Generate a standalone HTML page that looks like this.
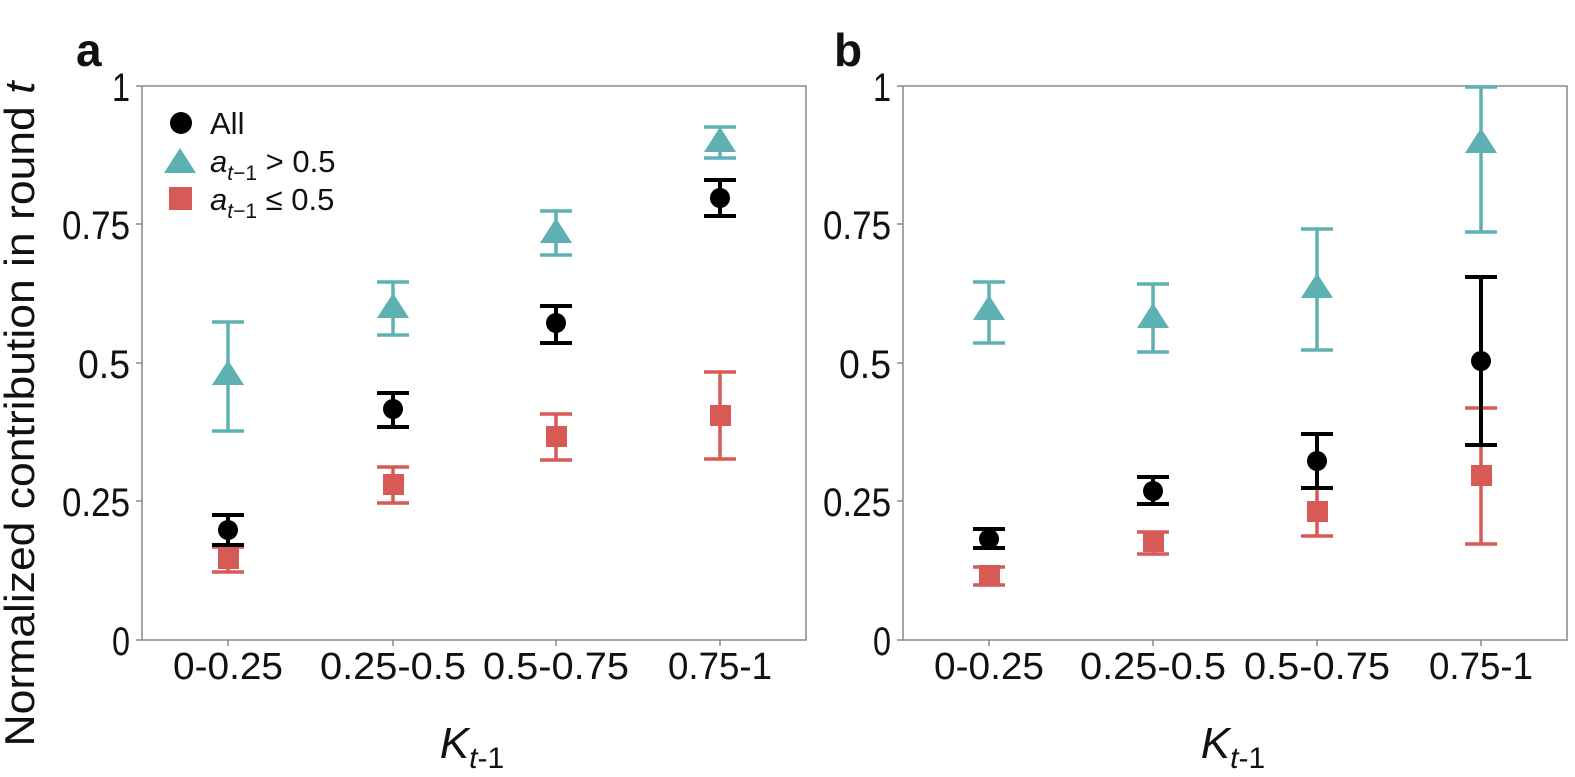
<!DOCTYPE html>
<html><head><meta charset="utf-8"><style>
html,body{margin:0;padding:0;background:#fff}
svg{display:block}
text{font-family:"Liberation Sans",Arial,sans-serif;fill:#111}
</style></head><body>
<svg width="1575" height="777" viewBox="0 0 1575 777" xmlns="http://www.w3.org/2000/svg">
<defs>
<g id="tri"><polygon points="0,-14 -16,11 16,11" fill="#5eb1b2"/></g>
</defs>
<text x="76" y="66" font-size="46" font-weight="bold">a</text>
<text x="834" y="66" font-size="46" font-weight="bold">b</text>
<text transform="translate(34,414) rotate(-90)" font-size="42" text-anchor="middle" textLength="665" lengthAdjust="spacingAndGlyphs">Normalized contribution in round <tspan font-style="italic">t</tspan></text>

<rect x="142" y="86" width="664" height="554" fill="none" stroke="#888" stroke-width="1.5"/>
<g stroke="#888" stroke-width="1.5"><path d="M136,86H142M136,224H142M136,363H142M136,501H142M136,640H142M228,640V646M393,640V646M556,640V646M720,640V646"/>
<path d="M897,86H903M897,224H903M897,363H903M897,501H903M897,640H903M989,640V646M1153,640V646M1317,640V646M1481,640V646"/></g>
<g font-size="40" text-anchor="end">
<text x="130" y="101" textLength="18" lengthAdjust="spacingAndGlyphs">1</text><text x="130" y="239" textLength="68" lengthAdjust="spacingAndGlyphs">0.75</text><text x="130" y="378" textLength="52" lengthAdjust="spacingAndGlyphs">0.5</text><text x="130" y="516" textLength="68" lengthAdjust="spacingAndGlyphs">0.25</text><text x="130" y="655" textLength="18" lengthAdjust="spacingAndGlyphs">0</text>
</g>
<g font-size="38" text-anchor="middle">
<text x="228" y="679" textLength="110" lengthAdjust="spacingAndGlyphs">0-0.25</text><text x="393" y="679" textLength="146" lengthAdjust="spacingAndGlyphs">0.25-0.5</text><text x="556" y="679" textLength="146" lengthAdjust="spacingAndGlyphs">0.5-0.75</text><text x="720" y="679" textLength="104" lengthAdjust="spacingAndGlyphs">0.75-1</text>
</g>
<text x="472" y="758" font-size="44" font-style="italic" text-anchor="middle">K<tspan font-size="30" dy="10" font-style="italic">t</tspan><tspan font-size="30" font-style="normal">-1</tspan></text>

<rect x="903" y="86" width="664" height="554" fill="none" stroke="#888" stroke-width="1.5"/>
<g font-size="40" text-anchor="end">
<text x="891" y="101" textLength="18" lengthAdjust="spacingAndGlyphs">1</text><text x="891" y="239" textLength="68" lengthAdjust="spacingAndGlyphs">0.75</text><text x="891" y="378" textLength="52" lengthAdjust="spacingAndGlyphs">0.5</text><text x="891" y="516" textLength="68" lengthAdjust="spacingAndGlyphs">0.25</text><text x="891" y="655" textLength="18" lengthAdjust="spacingAndGlyphs">0</text>
</g>
<g font-size="38" text-anchor="middle">
<text x="989" y="679" textLength="110" lengthAdjust="spacingAndGlyphs">0-0.25</text><text x="1153" y="679" textLength="146" lengthAdjust="spacingAndGlyphs">0.25-0.5</text><text x="1317" y="679" textLength="146" lengthAdjust="spacingAndGlyphs">0.5-0.75</text><text x="1481" y="679" textLength="104" lengthAdjust="spacingAndGlyphs">0.75-1</text>
</g>
<text x="1233" y="758" font-size="44" font-style="italic" text-anchor="middle">K<tspan font-size="30" dy="10" font-style="italic">t</tspan><tspan font-size="30" font-style="normal">-1</tspan></text>

<circle cx="181" cy="123" r="11" fill="#000"/>
<text x="210" y="134" font-size="31">All</text>
<use href="#tri" x="180" y="162"/>
<text x="210" y="172" font-size="31"><tspan font-style="italic">a</tspan><tspan font-size="21" dy="8" font-style="italic">t</tspan><tspan font-size="21">−1</tspan><tspan dy="-8"> &gt; 0.5</tspan></text>
<rect x="169" y="187" width="23" height="23" fill="#d65a56"/>
<text x="210" y="210" font-size="31"><tspan font-style="italic">a</tspan><tspan font-size="21" dy="8" font-style="italic">t</tspan><tspan font-size="21">−1</tspan><tspan dy="-8"> ≤ 0.5</tspan></text>

<g stroke="#5eb1b2" stroke-width="3.5" fill="none">
<path d="M228,322V431M212,322H244M212,431H244"/>
<path d="M393,282V335M377,282H409M377,335H409"/>
<path d="M556,211V255M540,211H572M540,255H572"/>
<path d="M720,127V158M704,127H736M704,158H736"/>
<path d="M989,282V343M973,282H1005M973,343H1005"/>
<path d="M1153,284V352M1137,284H1169M1137,352H1169"/>
<path d="M1317,229V350M1301,229H1333M1301,350H1333"/>
<path d="M1481,87V232M1465,87H1497M1465,232H1497"/>
</g>
<g stroke="#d65a56" stroke-width="3.5" fill="none">
<path d="M228,547V572M212,547H244M212,572H244"/>
<path d="M393,467V503M377,467H409M377,503H409"/>
<path d="M556,414V460M540,414H572M540,460H572"/>
<path d="M720,372V459M704,372H736M704,459H736"/>
<path d="M989,567V585M973,567H1005M973,585H1005"/>
<path d="M1153,532V554M1137,532H1169M1137,554H1169"/>
<path d="M1317,488V536M1301,488H1333M1301,536H1333"/>
<path d="M1481,408V544M1465,408H1497M1465,544H1497"/>
</g>
<g fill="#d65a56">
<rect x="218" y="548" width="21" height="21"/>
<rect x="383" y="474" width="21" height="21"/>
<rect x="546" y="426" width="21" height="21"/>
<rect x="710" y="405" width="21" height="21"/>
<rect x="979" y="565" width="21" height="21"/>
<rect x="1143" y="531" width="21" height="21"/>
<rect x="1307" y="501" width="21" height="21"/>
<rect x="1471" y="465" width="21" height="21"/>
</g>
<g stroke="#000" stroke-width="4" fill="none">
<path d="M228,515V545M212,515H244M212,545H244"/>
<path d="M393,393V427M377,393H409M377,427H409"/>
<path d="M556,306V343M540,306H572M540,343H572"/>
<path d="M720,180V216M704,180H736M704,216H736"/>
<path d="M989,529V548M973,529H1005M973,548H1005"/>
<path d="M1153,477V504M1137,477H1169M1137,504H1169"/>
<path d="M1317,434V488M1301,434H1333M1301,488H1333"/>
<path d="M1481,277V445M1465,277H1497M1465,445H1497"/>
</g>
<g fill="#000">
<circle cx="228" cy="530" r="10"/><circle cx="393" cy="409" r="10"/><circle cx="556" cy="323" r="10"/><circle cx="720" cy="198" r="10"/>
<circle cx="989" cy="539" r="10"/><circle cx="1153" cy="491" r="10"/><circle cx="1317" cy="461" r="10"/><circle cx="1481" cy="361" r="10"/>
</g>
<use href="#tri" x="228" y="374"/><use href="#tri" x="393" y="307"/><use href="#tri" x="556" y="232"/><use href="#tri" x="720" y="141"/>
<use href="#tri" x="989" y="309"/><use href="#tri" x="1153" y="317"/><use href="#tri" x="1317" y="287"/><use href="#tri" x="1481" y="142"/>
</svg>
</body></html>
